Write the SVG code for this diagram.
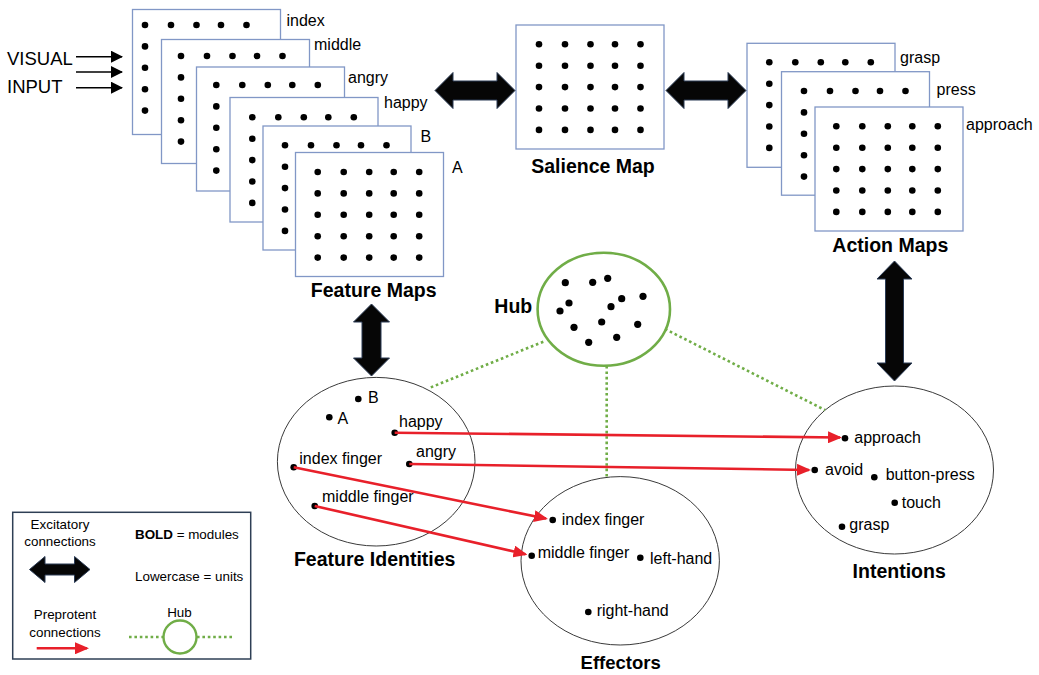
<svg xmlns="http://www.w3.org/2000/svg" xmlns:xlink="http://www.w3.org/1999/xlink" width="1039" height="675" viewBox="0 0 1039 675">
<style>
text{font-family:"Liberation Sans",Arial,sans-serif;fill:#000}
.u{font-size:16px}
.b{font-size:19.5px;font-weight:bold}
.lg{font-size:13.4px}
.map{fill:#fff;stroke:#8197c6;stroke-width:1.3}
.ell{fill:none;stroke:#3a3a3a;stroke-width:1}
.hub{fill:#fff;stroke:#70ad47;stroke-width:2.6}
.dotline{fill:none;stroke:#70ad47;stroke-width:2.6;stroke-dasharray:2.6 2.8}
.red{fill:none;stroke:#e8202a;stroke-width:2.6}
.dbl{fill:#060606;stroke:#2a3b55;stroke-width:1}
.in{fill:none;stroke:#000;stroke-width:1.5}
</style>
<defs>
<g id="grid">
<circle cx="0" cy="0" r="3.3"/><circle cx="26" cy="0" r="3.3"/><circle cx="51.5" cy="0" r="3.3"/><circle cx="76" cy="0" r="3.3"/><circle cx="101.5" cy="0" r="3.3"/>
<circle cx="0" cy="21.4" r="3.3"/><circle cx="26" cy="21.4" r="3.3"/><circle cx="51.5" cy="21.4" r="3.3"/><circle cx="76" cy="21.4" r="3.3"/><circle cx="101.5" cy="21.4" r="3.3"/>
<circle cx="0" cy="42.8" r="3.3"/><circle cx="26" cy="42.8" r="3.3"/><circle cx="51.5" cy="42.8" r="3.3"/><circle cx="76" cy="42.8" r="3.3"/><circle cx="101.5" cy="42.8" r="3.3"/>
<circle cx="0" cy="64.2" r="3.3"/><circle cx="26" cy="64.2" r="3.3"/><circle cx="51.5" cy="64.2" r="3.3"/><circle cx="76" cy="64.2" r="3.3"/><circle cx="101.5" cy="64.2" r="3.3"/>
<circle cx="0" cy="85.6" r="3.3"/><circle cx="26" cy="85.6" r="3.3"/><circle cx="51.5" cy="85.6" r="3.3"/><circle cx="76" cy="85.6" r="3.3"/><circle cx="101.5" cy="85.6" r="3.3"/>
</g>
<marker id="rh" markerUnits="userSpaceOnUse" markerWidth="14" markerHeight="12" refX="12" refY="6" orient="auto">
<path d="M0,0 L14,6 L0,12 Z" fill="#e8202a"/>
</marker>
<marker id="bh" markerUnits="userSpaceOnUse" markerWidth="12" markerHeight="12" refX="11" refY="6" orient="auto">
<path d="M0,0 L12,6 L0,12 Z" fill="#000"/>
</marker>
</defs>

<g id="visual-input">
<text x="7" y="65" style="font-size:18.5px">VISUAL</text>
<text x="7" y="93" style="font-size:18.5px">INPUT</text>
</g>

<g id="feature-maps">
<rect class="map" x="132.5" y="9.5" width="148" height="125"/>
<use xlink:href="#grid" x="145" y="25"/>
<text class="u" x="286.5" y="25.5">index</text>
<rect class="map" x="161.5" y="39.5" width="148" height="124"/>
<use xlink:href="#grid" x="181" y="56"/>
<text class="u" x="314" y="50">middle</text>
<rect class="map" x="196.5" y="67" width="148" height="124"/>
<use xlink:href="#grid" x="216.3" y="85"/>
<text class="u" x="348" y="82.5">angry</text>
<rect class="map" x="230" y="97.5" width="148" height="124.5"/>
<use xlink:href="#grid" x="252.3" y="117.3"/>
<text class="u" x="384" y="108">happy</text>
<rect class="map" x="263" y="126" width="148" height="124"/>
<use xlink:href="#grid" x="285" y="145.3"/>
<text class="u" x="420.5" y="141.5">B</text>
<rect class="map" x="295.5" y="152.5" width="148" height="124"/>
<use xlink:href="#grid" x="317.7" y="172"/>
<text class="u" x="452" y="172.5">A</text>
<text class="b" x="373.7" y="296.5" text-anchor="middle">Feature Maps</text>
</g>

<g id="salience-map">
<rect class="map" x="516" y="25" width="148" height="124"/>
<use xlink:href="#grid" x="539" y="44.3"/>
<text class="b" x="593" y="172.7" text-anchor="middle">Salience Map</text>
</g>

<g id="action-maps">
<rect class="map" x="747" y="43.3" width="148" height="124"/>
<use xlink:href="#grid" x="769.3" y="62.3"/>
<text class="u" x="900" y="63.3">grasp</text>
<rect class="map" x="781.5" y="71.7" width="148" height="123.5"/>
<use xlink:href="#grid" x="804" y="91"/>
<text class="u" x="936.5" y="95">press</text>
<rect class="map" x="815" y="107" width="148" height="124"/>
<use xlink:href="#grid" x="836.3" y="126.3"/>
<text class="u" x="966" y="130">approach</text>
<text class="b" x="890.3" y="251.7" text-anchor="middle">Action Maps</text>
</g>

<g id="hub">
<ellipse class="hub" cx="603.8" cy="309.2" rx="66.2" ry="56.5"/>
<g>
<circle cx="565.3" cy="282.7" r="3.6"/><circle cx="592.7" cy="282.3" r="3.6"/><circle cx="607.7" cy="278.3" r="3.6"/>
<circle cx="569" cy="303" r="3.6"/><circle cx="560" cy="311" r="3.6"/><circle cx="621.7" cy="298.7" r="3.6"/>
<circle cx="643" cy="296.3" r="3.6"/><circle cx="611" cy="306.7" r="3.6"/><circle cx="601.7" cy="322" r="3.6"/>
<circle cx="637.7" cy="324.3" r="3.6"/><circle cx="574" cy="327.3" r="3.6"/><circle cx="616.7" cy="337.3" r="3.6"/>
<circle cx="588.7" cy="342.3" r="3.6"/>
</g>
<text class="b" x="513.3" y="313.3" text-anchor="middle">Hub</text>
</g>

<g id="feature-identities">
<ellipse class="ell" cx="376.2" cy="461.7" rx="98.8" ry="84.3"/>
<circle cx="358.3" cy="399" r="3.3"/><text class="u" x="368" y="402.7">B</text>
<circle cx="329.3" cy="417.3" r="3.3"/><text class="u" x="337.5" y="424">A</text>
<circle cx="394.7" cy="432.7" r="3.3"/><text class="u" x="399" y="426.7">happy</text>
<circle cx="409.3" cy="464" r="3.3"/><text class="u" x="416" y="456.7">angry</text>
<circle cx="293.7" cy="467.3" r="3.3"/><text class="u" x="299.3" y="464">index finger</text>
<circle cx="314.7" cy="506" r="3.3"/><text class="u" x="322" y="501.7">middle finger</text>
<text class="b" x="374.7" y="566" text-anchor="middle">Feature Identities</text>
</g>

<g id="effectors">
<ellipse class="ell" cx="620.2" cy="560.8" rx="99.2" ry="84.2"/>
<circle cx="552.7" cy="520" r="3.3"/><text class="u" x="561.7" y="525">index finger</text>
<circle cx="531.7" cy="555.7" r="3.3"/><text class="u" x="537.7" y="558.3">middle finger</text>
<circle cx="640.3" cy="557.7" r="3.3"/><text class="u" x="650" y="564">left-hand</text>
<circle cx="588.3" cy="612" r="3.3"/><text class="u" x="596.7" y="616">right-hand</text>
<text class="b" x="620.7" y="669.3" text-anchor="middle" style="font-size:18.5px">Effectors</text>
</g>

<g id="intentions">
<ellipse class="ell" cx="894.5" cy="470" rx="99" ry="84"/>
<circle cx="845" cy="438.3" r="3.3"/><text class="u" x="854.3" y="442.7">approach</text>
<circle cx="814.7" cy="470" r="3.3"/><text class="u" x="825" y="475">avoid</text>
<circle cx="874.3" cy="477.3" r="3.3"/><text class="u" x="885.7" y="480">button-press</text>
<circle cx="894.7" cy="502.7" r="3.3"/><text class="u" x="901.7" y="507.7">touch</text>
<circle cx="842" cy="526.7" r="3.3"/><text class="u" x="849.3" y="530">grasp</text>
<text class="b" x="899.2" y="578.3" text-anchor="middle">Intentions</text>
</g>

<g id="legend">
<rect x="12.7" y="512.3" width="238" height="146.7" fill="#fff" stroke="#2e3f55" stroke-width="1.5"/>
<text class="lg" x="60" y="529.3" text-anchor="middle">Excitatory</text>
<text class="lg" x="60" y="546" text-anchor="middle">connections</text>
<path class="dbl" d="M29.5,569.5 L45,556.5 L45,564 L74.5,564 L74.5,556.5 L90,569.5 L74.5,582.5 L74.5,575 L45,575 L45,582.5 Z"/>
<text class="lg" x="135" y="539"><tspan font-weight="bold">BOLD</tspan> = modules</text>
<text class="lg" x="135" y="581">Lowercase = units</text>
<text class="lg" x="65" y="619.3" text-anchor="middle">Preprotent</text>
<text class="lg" x="65" y="636.7" text-anchor="middle">connections</text>
<line class="red" x1="36.7" y1="648.3" x2="87" y2="648.3" marker-end="url(#rh)"/>
<text class="lg" x="179.5" y="617.3" text-anchor="middle">Hub</text>
<line class="dotline" x1="129" y1="637" x2="163" y2="637"/>
<line class="dotline" x1="197" y1="637" x2="232" y2="637"/>
<circle cx="180" cy="637" r="16.5" fill="#fff" stroke="#70ad47" stroke-width="2.4"/>
</g>

<g id="connectors">
<line class="in" x1="76" y1="56.7" x2="122" y2="56.7" marker-end="url(#bh)"/>
<line class="in" x1="76" y1="72" x2="122" y2="72" marker-end="url(#bh)"/>
<line class="in" x1="76" y1="87.7" x2="122" y2="87.7" marker-end="url(#bh)"/>
<path class="dbl" d="M435,90.5 L453,72.5 L453,81 L497,81 L497,72.5 L515,90.5 L497,108.5 L497,100 L453,100 L453,108.5 Z"/>
<path class="dbl" d="M666,90.5 L684,72.5 L684,81 L728,81 L728,72.5 L746,90.5 L728,108.5 L728,100 L684,100 L684,108.5 Z"/>
<path class="dbl" d="M371.5,304 L389.5,322 L381,322 L381,358 L389.5,358 L371.5,376 L353.5,358 L362,358 L362,322 L353.5,322 Z"/>
<path class="dbl" d="M894.5,261 L912,279 L903.5,279 L903.5,363 L912,363 L894.5,381 L877,363 L885.5,363 L885.5,279 L877,279 Z"/>
<line class="dotline" x1="543.3" y1="341.7" x2="430" y2="387.7"/>
<line class="dotline" x1="665" y1="329" x2="825" y2="410"/>
<line class="dotline" x1="606.7" y1="366" x2="606.7" y2="476.7"/>
<line class="red" x1="394.7" y1="432.7" x2="840" y2="437.5" marker-end="url(#rh)"/>
<line class="red" x1="409.3" y1="464" x2="809" y2="470" marker-end="url(#rh)"/>
<line class="red" x1="293.7" y1="467.3" x2="546" y2="518.6" marker-end="url(#rh)"/>
<line class="red" x1="314.7" y1="506" x2="525.5" y2="554.2" marker-end="url(#rh)"/>
</g>
</svg>
